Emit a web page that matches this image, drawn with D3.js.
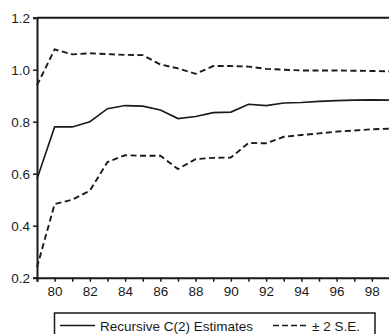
<!DOCTYPE html>
<html>
<head>
<meta charset="utf-8">
<script src="https://cdn.jsdelivr.net/npm/d3@7"></script>
<style>
  body { margin: 0; background: #fff; }
  svg { display: block; font-family: "Liberation Sans", Arial, sans-serif; }
</style>
</head>
<body>
<svg></svg>
<script>
const years = d3.range(1979, 2000);
const estimate = [0.58, 0.78, 0.78, 0.80, 0.85, 0.862, 0.86, 0.845, 0.812, 0.82, 0.835,
    0.837, 0.867, 0.862, 0.872, 0.874, 0.878, 0.881, 0.883, 0.884, 0.883];
const upper = [0.94, 1.078, 1.059, 1.063, 1.06, 1.057, 1.056, 1.02, 1.005, 0.984, 1.014,
    1.014, 1.012, 1.003, 1.0, 0.997, 0.997, 0.997, 0.996, 0.995, 0.994];
const lower = [0.24, 0.483, 0.5, 0.535, 0.645, 0.671, 0.669, 0.669, 0.618, 0.656, 0.661,
    0.662, 0.718, 0.717, 0.742, 0.749, 0.755, 0.762, 0.766, 0.771, 0.773];
const yTicks = [0.2, 0.4, 0.6, 0.8, 1.0, 1.2];
const xLabels = [1980, 1982, 1984, 1986, 1988, 1990, 1992, 1994, 1996, 1998];
const legendLabels = ["Recursive C(2) Estimates", "± 2 S.E."];

const width = 389;
const height = 334;
const svg = d3.select("svg")
    .attr("width", width)
    .attr("height", height);

const ink = "#1a1a1a";

const x = d3.scaleLinear()
    .domain([1979, 1999])
    .range([37, 389.5]);

const y = d3.scaleLinear()
    .domain([0.2, 1.2])
    .range([277.7, 17.7]);

// frame top line
svg.append("line")
    .attr("x1", x(1979)).attr("x2", width + 2)
    .attr("y1", y(1.2)).attr("y2", y(1.2))
    .attr("stroke", ink).attr("stroke-width", 2);

// y axis
const yAxis = svg.append("g")
    .attr("transform", `translate(${x(1979)},0)`)
    .call(d3.axisLeft(y).tickValues(yTicks).tickFormat(d3.format(".1f")).tickSize(4).tickPadding(3));
yAxis.select(".domain").attr("stroke", ink).attr("stroke-width", 2);
yAxis.selectAll(".tick line").attr("stroke", ink).attr("stroke-width", 1.5);
yAxis.selectAll("text").attr("font-size", 13.5).attr("fill", ink)
    .attr("font-family", "Liberation Sans, Arial, sans-serif");

// x axis
const xAxis = svg.append("g")
    .attr("transform", `translate(0,${y(0.2)})`)
    .call(d3.axisBottom(x).tickValues(years).tickSize(4).tickPadding(5)
        .tickFormat(d => xLabels.includes(d) ? String(d).slice(2) : ""));
xAxis.select(".domain").attr("stroke", ink).attr("stroke-width", 2);
xAxis.selectAll(".tick line").attr("stroke", ink).attr("stroke-width", 1.5);
xAxis.selectAll("text").attr("font-size", 13.5).attr("fill", ink)
    .attr("font-family", "Liberation Sans, Arial, sans-serif");

const line = d3.line()
    .x((d, i) => x(years[i]))
    .y(d => y(d));

svg.append("path")
    .datum(estimate)
    .attr("d", line)
    .attr("fill", "none")
    .attr("stroke", ink)
    .attr("stroke-width", 1.6);

[upper, lower].forEach(series => {
    svg.append("path")
        .datum(series)
        .attr("d", line)
        .attr("fill", "none")
        .attr("stroke", ink)
        .attr("stroke-width", 1.9)
        .attr("stroke-dasharray", "6,3.5");
});

// legend
const legend = svg.append("g");
legend.append("rect")
    .attr("x", 54.5).attr("y", 313)
    .attr("width", 320.5).attr("height", 26)
    .attr("fill", "none")
    .attr("stroke", ink)
    .attr("stroke-width", 1.5);

legend.append("line")
    .attr("x1", 60).attr("x2", 95)
    .attr("y1", 325.5).attr("y2", 325.5)
    .attr("stroke", ink).attr("stroke-width", 1.5);
legend.append("text")
    .attr("x", 100).attr("y", 330.5)
    .attr("font-size", 13.5).attr("fill", ink)
    .text(legendLabels[0]);

legend.append("line")
    .attr("x1", 273).attr("x2", 306)
    .attr("y1", 325.5).attr("y2", 325.5)
    .attr("stroke", ink).attr("stroke-width", 1.5)
    .attr("stroke-dasharray", "6,3");
legend.append("text")
    .attr("x", 312).attr("y", 330.5)
    .attr("font-size", 13.5).attr("fill", ink)
    .text(legendLabels[1]);
</script>
</body>
</html>
